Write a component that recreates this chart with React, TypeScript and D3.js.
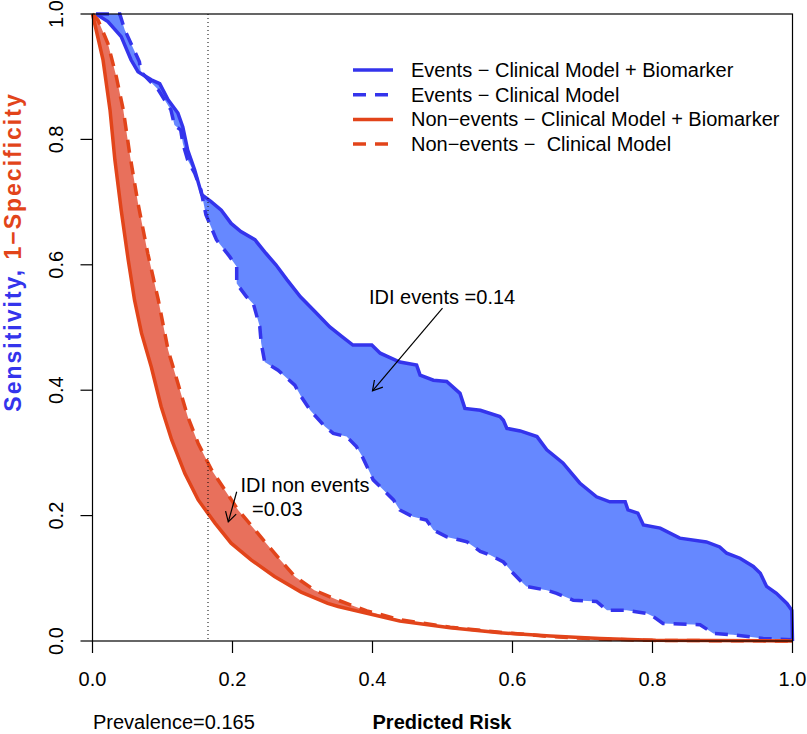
import React from "react";
import * as d3 from "d3";

type P = [number, number];

// Events – Clinical Model + Biomarker (solid blue)
const eventsNew: P[] = [
  [0.005, 1.0], [0.022, 0.988], [0.041, 0.964], [0.055, 0.927], [0.065, 0.908],
  [0.084, 0.895], [0.096, 0.889], [0.108, 0.863], [0.122, 0.842], [0.129, 0.82],
  [0.136, 0.783], [0.146, 0.751], [0.156, 0.712], [0.169, 0.701], [0.184, 0.687],
  [0.198, 0.666], [0.212, 0.653], [0.232, 0.64], [0.248, 0.618], [0.262, 0.6],
  [0.278, 0.576], [0.297, 0.549], [0.318, 0.525], [0.339, 0.501], [0.356, 0.486],
  [0.372, 0.472], [0.399, 0.472], [0.411, 0.459], [0.439, 0.445], [0.463, 0.44],
  [0.468, 0.424], [0.487, 0.416], [0.506, 0.414], [0.525, 0.395], [0.532, 0.371],
  [0.554, 0.368], [0.582, 0.358], [0.587, 0.352], [0.592, 0.339], [0.611, 0.335],
  [0.635, 0.326], [0.649, 0.305], [0.672, 0.284], [0.696, 0.252], [0.72, 0.23],
  [0.739, 0.222], [0.761, 0.222], [0.765, 0.209], [0.779, 0.204], [0.787, 0.185],
  [0.811, 0.18], [0.839, 0.164], [0.877, 0.158], [0.896, 0.15], [0.906, 0.14],
  [0.925, 0.132], [0.944, 0.119], [0.954, 0.108], [0.963, 0.087], [0.977, 0.076],
  [0.992, 0.06], [0.999, 0.049], [1.0, 0.0],
];

// Events – Clinical Model (dashed blue)
const eventsOld: P[] = [
  [0.005, 1.0], [0.039, 1.0], [0.046, 0.975], [0.055, 0.953], [0.067, 0.924],
  [0.069, 0.908], [0.094, 0.879], [0.112, 0.847], [0.117, 0.823], [0.126, 0.815],
  [0.129, 0.794], [0.136, 0.767], [0.146, 0.746], [0.155, 0.719], [0.162, 0.68],
  [0.177, 0.64], [0.196, 0.613], [0.206, 0.597], [0.206, 0.57], [0.22, 0.549],
  [0.23, 0.537], [0.239, 0.501], [0.241, 0.475], [0.246, 0.445], [0.265, 0.432],
  [0.289, 0.408], [0.298, 0.39], [0.311, 0.368], [0.332, 0.342], [0.344, 0.331],
  [0.363, 0.326], [0.377, 0.31], [0.385, 0.295], [0.401, 0.257], [0.411, 0.246],
  [0.43, 0.225], [0.439, 0.209], [0.458, 0.198], [0.477, 0.193], [0.487, 0.177],
  [0.506, 0.166], [0.525, 0.161], [0.535, 0.158], [0.554, 0.143], [0.568, 0.137],
  [0.587, 0.126], [0.601, 0.108], [0.615, 0.092], [0.62, 0.087], [0.649, 0.081],
  [0.663, 0.076], [0.687, 0.065], [0.72, 0.063], [0.735, 0.049], [0.763, 0.049],
  [0.792, 0.044], [0.801, 0.039], [0.815, 0.028], [0.868, 0.026], [0.887, 0.012],
  [0.915, 0.01], [0.958, 0.004], [1.0, 0.002],
];

// Non-events – Clinical Model + Biomarker (solid red)
const nonEventsNew: P[] = [
  [0.0, 1.0], [0.015, 0.927], [0.025, 0.847], [0.032, 0.767], [0.041, 0.687],
  [0.051, 0.608], [0.06, 0.544], [0.07, 0.491], [0.084, 0.437], [0.098, 0.374],
  [0.113, 0.321], [0.132, 0.267], [0.151, 0.225], [0.175, 0.188], [0.198, 0.156],
  [0.227, 0.129], [0.26, 0.103], [0.298, 0.078], [0.336, 0.06], [0.351, 0.055],
  [0.392, 0.044], [0.439, 0.032], [0.511, 0.021], [0.582, 0.013], [0.654, 0.008],
  [0.725, 0.004], [0.8, 0.001], [1.0, 0.0],
];

// Non-events – Clinical Model (dashed red)
const nonEventsOld: P[] = [
  [0.0, 1.0], [0.008, 0.99], [0.022, 0.953], [0.034, 0.9], [0.044, 0.847],
  [0.053, 0.778], [0.065, 0.698], [0.079, 0.618], [0.094, 0.544], [0.108, 0.464],
  [0.122, 0.411], [0.136, 0.358], [0.151, 0.315], [0.17, 0.273], [0.189, 0.241],
  [0.208, 0.209], [0.236, 0.172], [0.26, 0.14], [0.289, 0.103], [0.317, 0.081],
  [0.351, 0.065], [0.392, 0.048], [0.439, 0.034], [0.511, 0.022], [0.582, 0.014],
  [0.654, 0.007], [0.725, 0.003], [0.8, 0.001], [1.0, 0.0],
];

const xTicks = [0, 0.2, 0.4, 0.6, 0.8, 1.0];
const yTicks = [0, 0.2, 0.4, 0.6, 0.8, 1.0];
const prevalence = 0.165;

const legendLabels = [
  "Events \u2212 Clinical Model + Biomarker",
  "Events \u2212 Clinical Model",
  "Non\u2212events \u2212 Clinical Model + Biomarker",
  "Non\u2212events \u2212\u00a0 Clinical Model",
];

const idiEventsLabel = "IDI events =0.14";
const idiNonEventsLabel1 = "IDI non events";
const idiNonEventsLabel2 = "=0.03";
const idiEventsArrow: P[] = [[0.5, 0.531], [0.4, 0.399]];
const idiNonEventsArrow: P[] = [[0.206, 0.238], [0.194, 0.19]];

const BLUE = "#3434EC";
const BLUE_FILL = "#6688FF";
const RED = "#E2441A";
const RED_FILL = "#E8705C";
const FONT = "'Liberation Sans', Arial, Helvetica, sans-serif";

export default function App() {
  const W = 807;
  const H = 734;
  const x = d3.scaleLinear().domain([0, 1]).range([92.5, 792.5]);
  const y = d3.scaleLinear().domain([0, 1]).range([641, 14]);
  const line = d3
    .line<P>()
    .x((d) => x(d[0]))
    .y((d) => y(d[1]));

  const band = (a: P[], b: P[]) => line([...a, ...b.slice().reverse()]) + "Z";

  const arrow = (pts: P[]) => {
    const [p0, p1] = pts;
    const x0 = x(p0[0]), y0 = y(p0[1]), x1 = x(p1[0]), y1 = y(p1[1]);
    const ang = Math.atan2(y1 - y0, x1 - x0);
    const L = 11;
    const a1 = ang + Math.PI - Math.PI / 6;
    const a2 = ang + Math.PI + Math.PI / 6;
    return (
      <g stroke="#000" strokeWidth={1.2} fill="none">
        <line x1={x0} y1={y0} x2={x1} y2={y1} />
        <polyline
          points={`${x1 + L * Math.cos(a1)},${y1 + L * Math.sin(a1)} ${x1},${y1} ${x1 + L * Math.cos(a2)},${y1 + L * Math.sin(a2)}`}
        />
      </g>
    );
  };

  const legendX1 = 353;
  const legendX2 = 393;
  const legendY0 = 70;
  const legendDy = 24.7;
  const legendStyles = [
    { c: BLUE, dash: undefined },
    { c: BLUE, dash: "13 9" },
    { c: RED, dash: undefined },
    { c: RED, dash: "13 9" },
  ];

  return (
    <svg
      width={W}
      height={H}
      style={{ position: "absolute", left: 0, top: 0, background: "#fff" }}
      fontFamily={FONT}
    >
      <rect x={0} y={0} width={W} height={H} fill="#fff" />
      {/* filled bands */}
      <path d={band(eventsNew, eventsOld)} fill={BLUE_FILL} stroke="none" />
      <path d={band(nonEventsNew, nonEventsOld)} fill={RED_FILL} stroke="none" />

      {/* curves */}
      <path d={line(eventsOld) || ""} fill="none" stroke={BLUE} strokeWidth={3.5} strokeDasharray="13 9" />
      <path d={line(eventsNew) || ""} fill="none" stroke={BLUE} strokeWidth={3.5} />
      <path d={line(nonEventsOld) || ""} fill="none" stroke={RED} strokeWidth={3.5} strokeDasharray="13 9" />
      <path d={line(nonEventsNew) || ""} fill="none" stroke={RED} strokeWidth={3.5} />

      {/* prevalence line */}
      <line
        x1={x(prevalence)}
        x2={x(prevalence)}
        y1={y(1)}
        y2={y(0)}
        stroke="#000"
        strokeWidth={1}
        strokeDasharray="1 3"
      />

      {/* box */}
      <rect x={x(0)} y={y(1)} width={x(1) - x(0)} height={y(0) - y(1)} fill="none" stroke="#000" strokeWidth={1.2} />

      {/* x axis */}
      {xTicks.map((t) => (
        <g key={"x" + t}>
          <line x1={x(t)} x2={x(t)} y1={y(0)} y2={y(0) + 12} stroke="#000" strokeWidth={1.2} />
          <text x={x(t)} y={686} textAnchor="middle" fontSize={20}>
            {d3.format(".1f")(t)}
          </text>
        </g>
      ))}
      {/* y axis */}
      {yTicks.map((t) => (
        <g key={"y" + t}>
          <line x1={x(0) - 12} x2={x(0)} y1={y(t)} y2={y(t)} stroke="#000" strokeWidth={1.2} />
          <text
            transform={`translate(63,${y(t)}) rotate(-90)`}
            textAnchor="middle"
            fontSize={20}
          >
            {d3.format(".1f")(t)}
          </text>
        </g>
      ))}

      {/* axis titles */}
      <text x={93} y={729} fontSize={20}>
        Prevalence=0.165
      </text>
      <text x={442} y={729} fontSize={20} fontWeight="bold" textAnchor="middle">
        Predicted Risk
      </text>
      <text
        transform="translate(21,252) rotate(-90)"
        textAnchor="middle"
        fontSize={23}
        fontWeight="bold"
        letterSpacing={2}
      >
        <tspan fill={BLUE}>Sensitivity, </tspan>
        <tspan fill={RED}>1{"\u2212"}Specificity</tspan>
      </text>

      {/* legend */}
      {legendLabels.map((lab, i) => (
        <g key={lab}>
          <line
            x1={legendX1}
            x2={legendX2}
            y1={legendY0 + i * legendDy}
            y2={legendY0 + i * legendDy}
            stroke={legendStyles[i].c}
            strokeWidth={3.5}
            strokeDasharray={legendStyles[i].dash}
          />
          <text x={411} y={legendY0 + i * legendDy + 7} fontSize={20}>
            {lab}
          </text>
        </g>
      ))}

      {/* annotations */}
      <text x={369} y={304} fontSize={20}>
        {idiEventsLabel}
      </text>
      {arrow(idiEventsArrow)}
      <text x={240.5} y={492} fontSize={20}>
        {idiNonEventsLabel1}
      </text>
      <text x={252} y={516} fontSize={20}>
        {idiNonEventsLabel2}
      </text>
      {arrow(idiNonEventsArrow)}
    </svg>
  );
}
